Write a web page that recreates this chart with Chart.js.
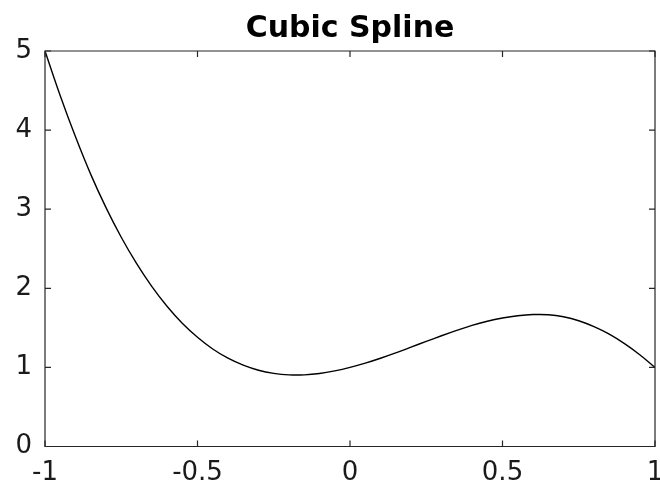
<!DOCTYPE html>
<html>
<head>
<meta charset="utf-8">
<script src="https://cdn.jsdelivr.net/npm/chart.js@4/dist/chart.umd.min.js"></script>
<style>
  html, body { margin: 0; padding: 0; background: #fff; }
  #wrap { width: 660px; height: 484px; }
</style>
</head>
<body>
<div id="wrap"><canvas id="c" width="660" height="484"></canvas></div>
<script>
const titleText = 'Cubic Spline';
const xValues = [-1.00, -0.95, -0.90, -0.85, -0.80, -0.75, -0.70, -0.65, -0.60, -0.55,
                 -0.50, -0.45, -0.40, -0.35, -0.30, -0.25, -0.20, -0.15, -0.10, -0.05,
                  0.00,  0.05,  0.10,  0.15,  0.20,  0.25,  0.30,  0.35,  0.40,  0.45,
                  0.50,  0.55,  0.60,  0.65,  0.70,  0.75,  0.80,  0.85,  0.90,  0.95, 1.00];
const yValues = [5.000, 4.435, 3.915, 3.440, 3.020, 2.645, 2.314, 2.024, 1.773, 1.559,
                 1.382, 1.233, 1.116, 1.028, 0.964, 0.925, 0.906, 0.906, 0.923, 0.956,
                 1.000, 1.054, 1.116, 1.184, 1.256, 1.329, 1.400, 1.468, 1.532, 1.584,
                 1.624, 1.653, 1.668, 1.666, 1.640, 1.590, 1.515, 1.420, 1.300, 1.160, 1.000];
const xTicks = [-1, -0.5, 0, 0.5, 1];
const yTicks = [0, 1, 2, 3, 4, 5];

const points = xValues.map((x, i) => ({ x: x, y: yValues[i] }));
const FONT = '"DejaVu Sans", "Liberation Sans", Arial, sans-serif';
const AXIS = '#262626';

const boxPlugin = {
  id: 'boxTicks',
  afterDatasetsDraw(chart) {
    const { ctx, chartArea: a, scales } = chart;
    const xs = scales.x, ys = scales.y;
    const L = 6;
    ctx.save();
    ctx.strokeStyle = AXIS;
    ctx.lineWidth = 1.2;
    ctx.beginPath();
    ctx.rect(a.left, a.top, a.right - a.left, a.bottom - a.top);
    ctx.stroke();
    ctx.beginPath();
    xTicks.forEach(v => {
      const px = xs.getPixelForValue(v);
      ctx.moveTo(px, a.bottom); ctx.lineTo(px, a.bottom - L);
      ctx.moveTo(px, a.top); ctx.lineTo(px, a.top + L);
    });
    yTicks.forEach(v => {
      const py = ys.getPixelForValue(v);
      ctx.moveTo(a.left, py); ctx.lineTo(a.left + L, py);
      ctx.moveTo(a.right, py); ctx.lineTo(a.right - L, py);
    });
    ctx.stroke();
    ctx.restore();
  }
};

new Chart(document.getElementById('c'), {
  type: 'line',
  data: {
    datasets: [{
      data: points,
      borderColor: '#000',
      borderWidth: 1.4,
      pointRadius: 0,
      fill: false,
      tension: 0.4
    }]
  },
  options: {
    responsive: false,
    animation: false,
    devicePixelRatio: 1,
    layout: { padding: { top: 0, right: 5, left: 0, bottom: 0 } },
    plugins: {
      legend: { display: false },
      tooltip: { enabled: false },
      title: {
        display: true,
        fullSize: false,
        text: titleText,
        color: '#000',
        font: { family: FONT, size: 30, weight: 'bold', lineHeight: 1.2 },
        padding: { top: 11, bottom: 4 }
      }
    },
    scales: {
      x: {
        type: 'linear',
        min: -1, max: 1,
        grid: { display: false, drawTicks: false },
        border: { display: false },
        afterBuildTicks(s) { s.ticks = xTicks.map(v => ({ value: v })); },
        afterFit(s) { s.height = 37.5; s.paddingLeft = 0; s.paddingRight = 0; },
        ticks: {
          color: '#1a1a1a',
          padding: 11,
          maxRotation: 0,
          font: { family: FONT, size: 26 },
          callback: (v) => String(v)
        }
      },
      y: {
        type: 'linear',
        min: 0, max: 5,
        grid: { display: false, drawTicks: false },
        border: { display: false },
        afterBuildTicks(s) { s.ticks = yTicks.map(v => ({ value: v })); },
        afterFit(s) { s.width = 45; s.paddingTop = 0; s.paddingBottom = 0; },
        ticks: {
          color: '#1a1a1a',
          padding: 13,
          font: { family: FONT, size: 26 },
          callback: (v) => String(v)
        }
      }
    }
  },
  plugins: [boxPlugin]
});
</script>
</body>
</html>
